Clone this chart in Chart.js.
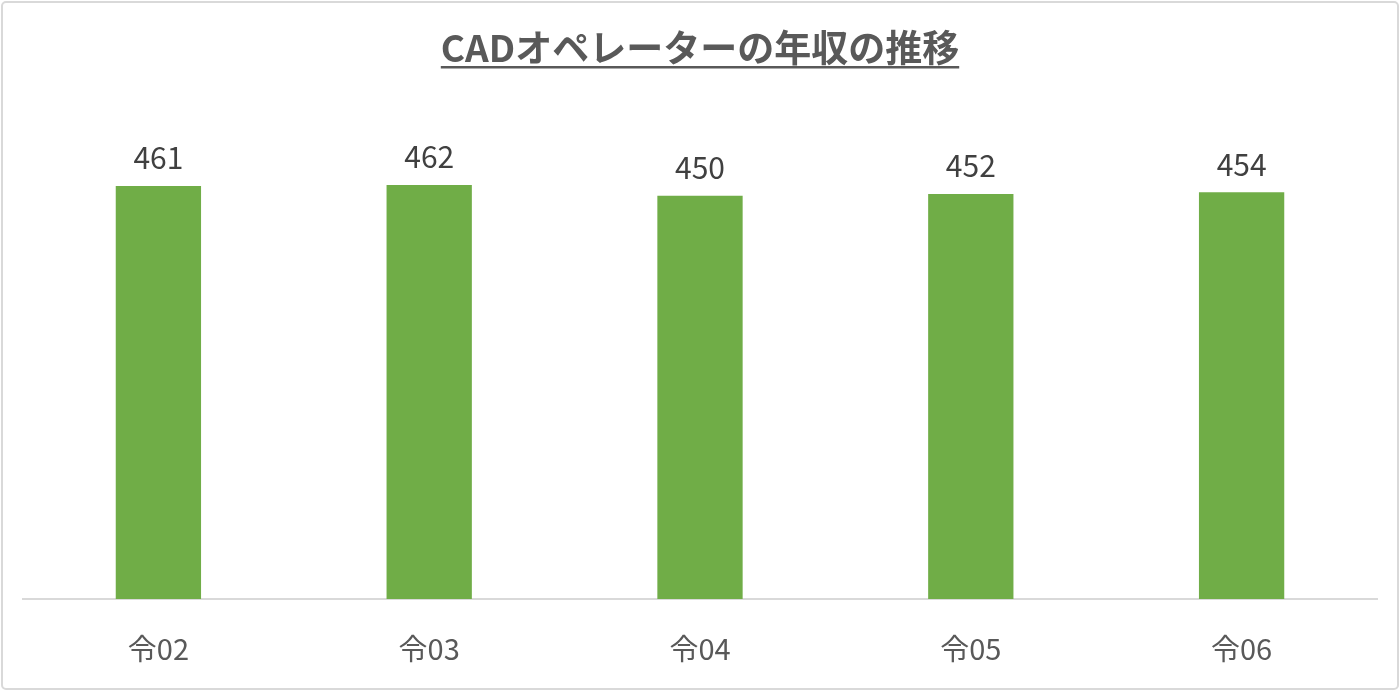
<!DOCTYPE html>
<html>
<head>
<meta charset="utf-8">
<script src="https://cdn.jsdelivr.net/npm/chart.js@4"></script>
<style>
html,body{margin:0;padding:0;background:#fff;}
#wrap{width:1400px;height:691px;position:relative;}
</style>
</head>
<body>
<div id="wrap"><canvas id="c" width="1400" height="691"></canvas></div>
<script>
const chartTitle = 'CADオペレーターの年収の推移';
const categories = ['令02', '令03', '令04', '令05', '令06'];
const salaries = [461, 462, 450, 452, 454];
const yMax = 500;

const JP = '"Noto Sans CJK JP", "Noto Sans", sans-serif';

const framePlugin = {
  id: 'frame',
  beforeDraw(chart) {
    const ctx = chart.ctx;
    ctx.save();
    ctx.fillStyle = '#fff';
    ctx.fillRect(0, 0, chart.width, chart.height);
    ctx.strokeStyle = '#d9d9d9';
    ctx.lineWidth = 2;
    ctx.beginPath();
    if (ctx.roundRect) ctx.roundRect(2, 2, chart.width - 4, chart.height - 4, 4);
    else ctx.rect(2, 2, chart.width - 4, chart.height - 4);
    ctx.stroke();
    // title
    ctx.font = 'bold 37px ' + JP;
    ctx.fillStyle = '#595959';
    ctx.textAlign = 'center';
    ctx.textBaseline = 'middle';
    const cx = chart.width / 2;
    ctx.fillText(chartTitle, cx, 48);
    const w = ctx.measureText(chartTitle).width;
    ctx.fillRect(cx - w / 2, 66, w, 2.5);
    ctx.restore();
  }
};

const labelPlugin = {
  id: 'valueLabels',
  afterDatasetsDraw(chart) {
    const ctx = chart.ctx;
    const meta = chart.getDatasetMeta(0);
    ctx.save();
    ctx.font = '30px ' + JP;
    ctx.fillStyle = '#404040';
    ctx.textAlign = 'center';
    ctx.textBaseline = 'middle';
    meta.data.forEach((bar, i) => {
      ctx.fillText(String(salaries[i]), bar.x, bar.y - 28);
    });
    ctx.restore();
  }
};

new Chart(document.getElementById('c'), {
  type: 'bar',
  data: {
    labels: categories,
    datasets: [{
      data: salaries,
      backgroundColor: '#70AD47',
      borderWidth: 0,
      categoryPercentage: 1,
      barPercentage: 0.315
    }]
  },
  options: {
    responsive: false,
    animation: false,
    devicePixelRatio: 1,
    layout: { padding: { left: 23, right: 23, top: 151, bottom: 0 } },
    plugins: { legend: { display: false }, tooltip: { enabled: false }, title: { display: false } },
    scales: {
      y: { display: false, min: 0, max: yMax },
      x: {
        grid: { display: false, drawTicks: false },
        border: { display: true, color: '#d9d9d9', width: 2 },
        ticks: { color: '#595959', font: { family: JP, size: 29 }, padding: 33 },
        afterFit(scale) { scale.height = 92; }
      }
    }
  },
  plugins: [framePlugin, labelPlugin]
});
</script>
</body>
</html>
